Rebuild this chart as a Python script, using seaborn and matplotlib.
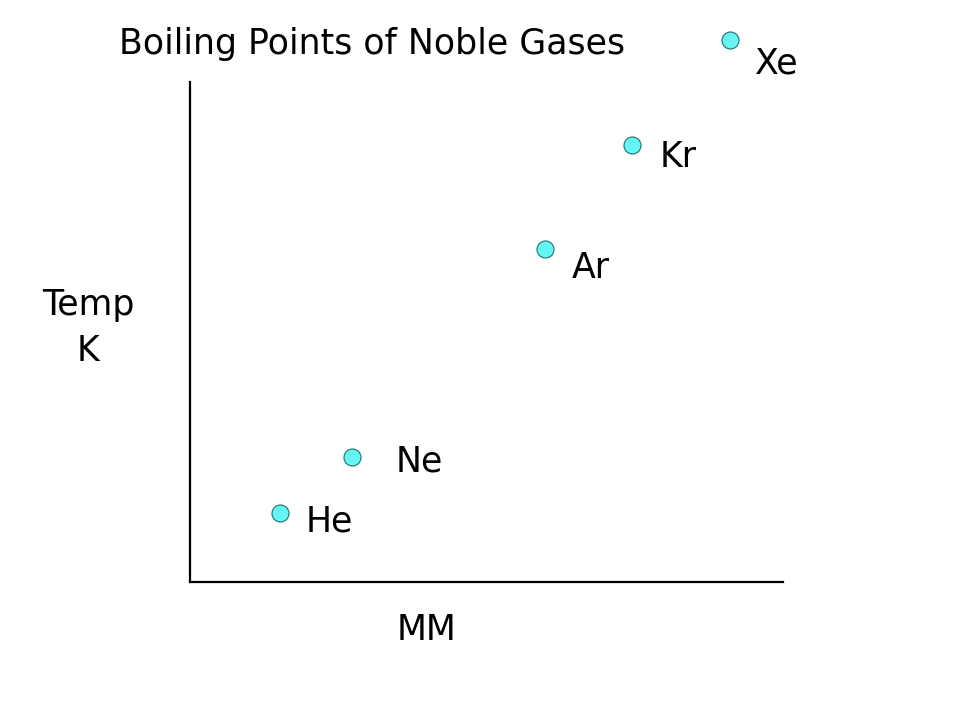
import matplotlib
matplotlib.use("Agg")
import matplotlib.pyplot as plt
import seaborn as sns
import pandas as pd

# values (relative units, axes run 0-100)
gases = ["He", "Ne", "Ar", "Kr", "Xe"]
molar_mass = [15.2, 27.3, 59.9, 74.5, 91.1]
boiling_temp = [13.8, 25.0, 66.6, 87.4, 108.4]

# label offsets from each point, in pixels (right, down)
label_dx = [25, 44, 27, 28, 25]
label_dy = [9, 5, 19, 12, 24]

df = pd.DataFrame({"gas": gases, "mm": molar_mass, "temp": boiling_temp})

sns.set_theme(style="white")
plt.rcParams['font.family'] = ['DejaVu Sans']

fig = plt.figure(figsize=(9.6, 7.2), dpi=100)
ax = fig.add_axes([190 / 960, 138 / 720, 593 / 960, 500 / 720])

sns.scatterplot(data=df, x="mm", y="temp", ax=ax, s=150, color="#66F5F5",
                edgecolor="#1F6F6F", linewidth=0.8, clip_on=False, zorder=3)

for g, x, y, dx, dy in zip(gases, molar_mass, boiling_temp, label_dx, label_dy):
    ax.annotate(g, (x, y), xytext=(dx * 0.72, -dy * 0.72), textcoords="offset points",
                fontsize=25, color="black", ha="left", va="center",
                annotation_clip=False)

ax.set_xlim(0, 100)
ax.set_ylim(0, 100)
ax.set_xticks([])
ax.set_yticks([])
ax.set_xlabel("")
ax.set_ylabel("")
for side in ["top", "right"]:
    ax.spines[side].set_visible(False)
for side in ["left", "bottom"]:
    ax.spines[side].set_color("black")
    ax.spines[side].set_linewidth(1.6)

fig.text(372 / 960, 1 - 44 / 720, "Boiling Points of Noble Gases",
         fontsize=25, color="black", ha="center", va="center")
fig.text(88 / 960, 1 - 328 / 720, "Temp\nK", fontsize=25, color="black",
         ha="center", va="center", linespacing=1.45)
fig.text(426 / 960, 1 - 630 / 720, "MM", fontsize=25, color="black",
         ha="center", va="center")

fig.savefig("out.png", dpi=100)
